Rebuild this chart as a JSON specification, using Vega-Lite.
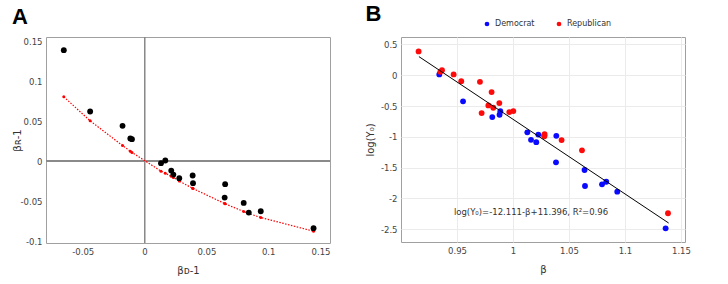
{
  "$schema": "https://vega.github.io/schema/vega-lite/v6.json",
  "background": "white",
  "padding": {"left": 11, "top": 2, "right": 5, "bottom": 5},
  "config": {
    "font": "DejaVu Sans",
    "view": {"stroke": "#a0a0a0", "strokeWidth": 1},
    "axis": {
      "labelFontSize": 8.5,
      "labelColor": "#444444",
      "labelOverlap": false,
      "titleFontSize": 10,
      "titleFontWeight": "normal",
      "titleColor": "#333333",
      "gridColor": "#ebebeb",
      "domain": false,
      "ticks": false,
      "labelPadding": 4
    },
    "title": {"font": "Liberation Sans", "fontSize": 22, "fontWeight": "bold", "color": "#000000", "anchor": "start", "frame": "bounds"}
  },
  "datasets": {
    "states": [
      {"d": -0.0653, "r": 0.139, "fit": 0.0806},
      {"d": -0.044, "r": 0.0622, "fit": 0.0505},
      {"d": -0.0178, "r": 0.0442, "fit": 0.0195},
      {"d": -0.0115, "r": 0.0285, "fit": 0.0125},
      {"d": -0.0102, "r": 0.0275, "fit": 0.011},
      {"d": 0.0133, "r": -0.0025, "fit": -0.0125},
      {"d": 0.0168, "r": 0.0008, "fit": -0.015},
      {"d": 0.0216, "r": -0.0118, "fit": -0.019},
      {"d": 0.0233, "r": -0.0168, "fit": -0.0205},
      {"d": 0.0281, "r": -0.0213, "fit": -0.025},
      {"d": 0.0389, "r": -0.018, "fit": -0.034},
      {"d": 0.0392, "r": -0.0276, "fit": -0.0343},
      {"d": 0.0648, "r": -0.0456, "fit": -0.0531},
      {"d": 0.0652, "r": -0.0288, "fit": -0.0534},
      {"d": 0.0802, "r": -0.0523, "fit": -0.0631},
      {"d": 0.0843, "r": -0.0644, "fit": -0.0655},
      {"d": 0.094, "r": -0.0627, "fit": -0.0706},
      {"d": 0.1367, "r": -0.084, "fit": -0.0877}
    ],
    "scaling": [
      {"beta": 0.9342, "logY": 0.013, "party": "Democrat"},
      {"beta": 0.9554, "logY": -0.424, "party": "Democrat"},
      {"beta": 0.9815, "logY": -0.679, "party": "Democrat"},
      {"beta": 0.988, "logY": -0.641, "party": "Democrat"},
      {"beta": 0.9887, "logY": -0.585, "party": "Democrat"},
      {"beta": 1.0128, "logY": -0.927, "party": "Democrat"},
      {"beta": 1.0161, "logY": -1.049, "party": "Democrat"},
      {"beta": 1.0208, "logY": -1.086, "party": "Democrat"},
      {"beta": 1.0226, "logY": -0.963, "party": "Democrat"},
      {"beta": 1.028, "logY": -0.975, "party": "Democrat"},
      {"beta": 1.0387, "logY": -0.984, "party": "Democrat"},
      {"beta": 1.0384, "logY": -1.413, "party": "Democrat"},
      {"beta": 1.0639, "logY": -1.538, "party": "Democrat"},
      {"beta": 1.0643, "logY": -1.798, "party": "Democrat"},
      {"beta": 1.0795, "logY": -1.771, "party": "Democrat"},
      {"beta": 1.0833, "logY": -1.728, "party": "Democrat"},
      {"beta": 1.0931, "logY": -1.89, "party": "Democrat"},
      {"beta": 1.1363, "logY": -2.484, "party": "Democrat"},
      {"beta": 0.9157, "logY": 0.386, "party": "Republican"},
      {"beta": 0.9351, "logY": 0.055, "party": "Republican"},
      {"beta": 0.9366, "logY": 0.082, "party": "Republican"},
      {"beta": 0.947, "logY": 0.013, "party": "Republican"},
      {"beta": 0.9538, "logY": -0.096, "party": "Republican"},
      {"beta": 0.9705, "logY": -0.107, "party": "Republican"},
      {"beta": 0.9809, "logY": -0.274, "party": "Republican"},
      {"beta": 0.978, "logY": -0.49, "party": "Republican"},
      {"beta": 0.9824, "logY": -0.528, "party": "Republican"},
      {"beta": 0.9878, "logY": -0.452, "party": "Republican"},
      {"beta": 0.972, "logY": -0.614, "party": "Republican"},
      {"beta": 0.9967, "logY": -0.598, "party": "Republican"},
      {"beta": 1.0003, "logY": -0.582, "party": "Republican"},
      {"beta": 1.0282, "logY": -0.955, "party": "Republican"},
      {"beta": 1.028, "logY": -0.992, "party": "Republican"},
      {"beta": 1.0434, "logY": -1.052, "party": "Republican"},
      {"beta": 1.0616, "logY": -1.219, "party": "Republican"},
      {"beta": 1.1384, "logY": -2.24, "party": "Republican"}
    ],
    "fitline": [
      {"beta": 0.916, "logY": 0.302},
      {"beta": 1.139, "logY": -2.398}
    ]
  },
  "spacing": 71,
  "bounds": "flush",
  "resolve": {"legend": {"color": "independent"}},
  "hconcat": [
    {
      "title": {"text": "A", "offset": 8},
      "width": 284,
      "height": 206,
      "data": {"name": "states"},
      "layer": [
        {
          "mark": {"type": "rule", "color": "#8a8a8a", "strokeWidth": 1},
          "encoding": {"x": {"datum": 0, "type": "quantitative", "scale": {"domain": [-0.0797, 0.15], "nice": false, "zero": false}}}
        },
        {
          "mark": {"type": "rule", "color": "#8a8a8a", "strokeWidth": 1},
          "encoding": {"y": {"datum": 0, "type": "quantitative", "scale": {"domain": [-0.1025, 0.1555], "nice": false, "zero": false}}}
        },
        {
          "mark": {"type": "line", "color": "#ff0000", "strokeWidth": 1.2, "strokeDash": [1.5, 1.5]},
          "encoding": {
            "x": {"field": "d", "type": "quantitative", "scale": {"domain": [-0.0797, 0.15], "nice": false, "zero": false}},
            "y": {"field": "fit", "type": "quantitative", "scale": {"domain": [-0.1025, 0.1555], "nice": false, "zero": false}}
          }
        },
        {
          "mark": {"type": "point", "filled": true, "color": "#ff0000", "size": 9, "opacity": 1},
          "encoding": {
            "x": {"field": "d", "type": "quantitative"},
            "y": {"field": "fit", "type": "quantitative"}
          }
        },
        {
          "mark": {"type": "point", "filled": true, "color": "#000000", "size": 34, "opacity": 1},
          "encoding": {
            "x": {
              "field": "d", "type": "quantitative",
              "scale": {"domain": [-0.0797, 0.15], "nice": false, "zero": false},
              "axis": {"values": [-0.05, 0, 0.05, 0.1, 0.15], "labelOverlap": false, "labelExpr": "replace(format(datum.value, '.2~f'), '\u2212', '-')", "title": "\u03b2\u1d05-1", "titlePadding": 10}
            },
            "y": {
              "field": "r", "type": "quantitative",
              "scale": {"domain": [-0.1025, 0.1555], "nice": false, "zero": false},
              "axis": {"values": [-0.1, -0.05, 0, 0.05, 0.1, 0.15], "labelOverlap": false, "labelExpr": "replace(format(datum.value, '.2~f'), '\u2212', '-')", "title": "\u03b2\u0280-1", "titlePadding": -2}
            }
          }
        }
      ]
    },
    {
      "title": {"text": "B", "offset": 4, "dy": 10},
      "width": 284,
      "height": 205,
      "layer": [
        {
          "data": {"name": "scaling"},
          "mark": {"type": "point", "filled": true, "size": 34, "opacity": 1},
          "encoding": {
            "x": {
              "field": "beta", "type": "quantitative",
              "scale": {"domain": [0.9, 1.1536], "nice": false, "zero": false},
              "axis": {"values": [0.95, 1, 1.05, 1.1, 1.15], "labelOverlap": false, "labelExpr": "replace(format(datum.value, '.2~f'), '\u2212', '-')", "title": "\u03b2", "titlePadding": 10}
            },
            "y": {
              "field": "logY", "type": "quantitative",
              "scale": {"domain": [-2.706, 0.62], "nice": false, "zero": false},
              "axis": {"values": [0.5, 0, -0.5, -1, -1.5, -2, -2.5], "labelOverlap": false, "labelExpr": "replace(format(datum.value, '.2~f'), '\u2212', '-')", "title": "log(Y\u2080)", "titlePadding": 5}
            },
            "color": {
              "field": "party", "type": "nominal",
              "scale": {"domain": ["Democrat", "Republican"], "range": ["#0a0aff", "#ff0a0a"]},
              "legend": {"orient": "none", "legendX": 82, "legendY": -17, "direction": "horizontal", "title": null, "symbolType": "circle", "symbolSize": 22, "symbolStrokeWidth": 0, "labelFontSize": 8, "labelColor": "#333333", "columnPadding": 20}
            }
          }
        },
        {
          "data": {"name": "fitline"},
          "mark": {"type": "line", "color": "#000000", "strokeWidth": 1},
          "encoding": {
            "x": {
              "field": "beta", "type": "quantitative",
              "scale": {"domain": [0.9, 1.1536], "nice": false, "zero": false},
              "axis": {"values": [0.95, 1, 1.05, 1.1, 1.15], "labelOverlap": false, "labelExpr": "replace(format(datum.value, '.2~f'), '\u2212', '-')", "title": "\u03b2", "titlePadding": 10}
            },
            "y": {
              "field": "logY", "type": "quantitative",
              "scale": {"domain": [-2.706, 0.62], "nice": false, "zero": false},
              "axis": {"values": [0.5, 0, -0.5, -1, -1.5, -2, -2.5], "labelOverlap": false, "labelExpr": "replace(format(datum.value, '.2~f'), '\u2212', '-')", "title": "log(Y\u2080)", "titlePadding": 5}
            }
          }
        },
        {
          "data": {"values": [{"note": "log(Y\u2080)=-12.111-\u03b2+11.396, R\u00b2=0.96"}]},
          "mark": {"type": "text", "fontSize": 8.5, "color": "#333333", "align": "center", "baseline": "middle"},
          "encoding": {
            "x": {
              "datum": 1.0161, "type": "quantitative",
              "scale": {"domain": [0.9, 1.1536], "nice": false, "zero": false},
              "axis": {"values": [0.95, 1, 1.05, 1.1, 1.15], "labelOverlap": false, "labelExpr": "replace(format(datum.value, '.2~f'), '\u2212', '-')", "title": "\u03b2", "titlePadding": 10}
            },
            "y": {
              "datum": -2.227, "type": "quantitative",
              "scale": {"domain": [-2.706, 0.62], "nice": false, "zero": false},
              "axis": {"values": [0.5, 0, -0.5, -1, -1.5, -2, -2.5], "labelOverlap": false, "labelExpr": "replace(format(datum.value, '.2~f'), '\u2212', '-')", "title": "log(Y\u2080)", "titlePadding": 5}
            },
            "text": {"field": "note", "type": "nominal"}
          }
        }
      ]
    }
  ]
}
